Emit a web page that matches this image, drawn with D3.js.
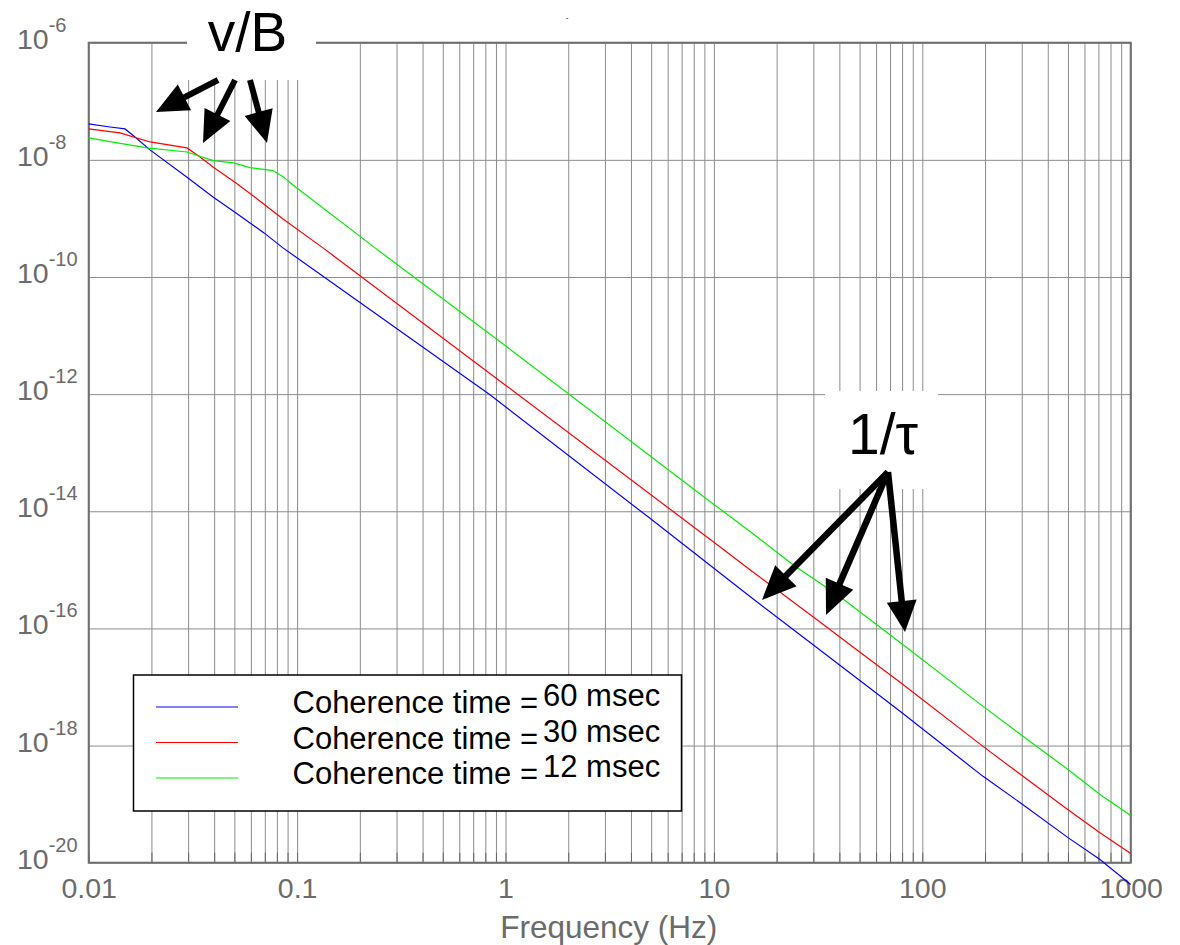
<!DOCTYPE html>
<html><head><meta charset="utf-8">
<script src="https://cdn.jsdelivr.net/npm/d3@7"></script>
<style>
body{margin:0;background:#fff}
svg{display:block}
text{font-family:"Liberation Sans",Arial,Helvetica,sans-serif}
</style>
</head><body>
<svg id="c" width="1180" height="945"></svg>
<script>
// ---------- data ----------
const blueFreq = [0.01, 0.01266, 0.01494, 0.01668, 0.01969, 0.02996, 0.0395, 0.05091, 0.06939, 0.08557, 0.8425, 4.882, 14.9, 31.25, 78.2, 195.6, 304.2, 500.3, 712.2, 1000];
const blueVal  = [4.1e-8, 3.64e-8, 3.37e-8, 2.46e-8, 1.48e-8, 4.91e-9, 2.33e-9, 1.24e-9, 5.66e-10, 3.14e-10, 9.73e-13, 7.8e-15, 3.5e-16, 4.69e-17, 3.84e-18, 2.98e-19, 9.8e-20, 2.68e-20, 1.13e-20, 4.23e-21];

const redFreq = [0.01, 0.01413, 0.01969, 0.02963, 0.0342, 0.0395, 0.05091, 0.06939, 0.08557, 0.1331, 1, 10, 14.9, 31.25, 48.6, 78.2, 195.6, 304.2, 500.3, 712.2, 1000];
const redVal  = [3.37e-8, 2.88e-8, 2.02e-8, 1.6e-8, 1.12e-8, 7.56e-9, 4.03e-9, 1.75e-9, 9.8e-10, 3.14e-10, 1.42e-12, 2.96e-15, 1.0e-15, 1.4e-16, 4.28e-17, 1.2e-17, 9.69e-19, 2.98e-19, 8.05e-20, 3.26e-20, 1.43e-20];

const greenFreq = [0.01, 0.01266, 0.01905, 0.02963, 0.0395, 0.04952, 0.05943, 0.07662, 0.08557, 0.09557, 0.2365, 1, 10, 14.9, 23.97, 40.3, 84.45, 195.6, 304.2, 500.3, 712.2, 1000];
const greenVal  = [2.37e-8, 2.05e-8, 1.6e-8, 1.36e-8, 9.69e-9, 8.85e-9, 7.36e-9, 6.55e-9, 5.17e-9, 3.73e-9, 3.14e-10, 6.7e-12, 1.31e-14, 4.52e-15, 1.22e-15, 3.47e-16, 4.69e-17, 4.67e-18, 1.44e-18, 3.89e-19, 1.46e-19, 6.37e-20];

const seriesNames = ["60 msec", "30 msec", "12 msec"];
const seriesColors = ["#0000ff", "#ff0000", "#00ee00"];
const legendPrefix = "Coherence time =";

const xTickVals = [0.01, 0.1, 1, 10, 100, 1000];
const xTickLabels = ["0.01", "0.1", "1", "10", "100", "1000"];
const yTickVals = [1e-6, 1e-8, 1e-10, 1e-12, 1e-14, 1e-16, 1e-18, 1e-20];
const yTickExps = ["-6", "-8", "-10", "-12", "-14", "-16", "-18", "-20"];
const xLabel = "Frequency (Hz)";

// ---------- layout ----------
const L = 88.7, R = 1130.7, T = 42.7, B = 862.7;
const x = d3.scaleLog().domain([0.01, 1000]).range([L, R]);
const y = d3.scaleLog().domain([1e-6, 1e-20]).range([T, B]);
const svg = d3.select("#c");
const gridCol = "#8c8c8c", frameCol = "#707070", labCol = "#6b6b6b";

// vertical grid (all 1..9 x 10^n)
const gx = svg.append("g").attr("transform", `translate(0,${B})`)
  .call(d3.axisBottom(x).tickSize(-(B - T)).tickFormat(""));
gx.select(".domain").remove();
gx.selectAll("line").attr("stroke", gridCol).attr("stroke-width", 1);

// horizontal grid
const gy = svg.append("g").attr("transform", `translate(${L},0)`)
  .call(d3.axisLeft(y).tickValues(yTickVals).tickSize(-(R - L)).tickFormat(""));
gy.select(".domain").remove();
gy.selectAll("line").attr("stroke", gridCol).attr("stroke-width", 1);

// inward ticks at bottom (darker)
const gt = svg.append("g").attr("transform", `translate(0,${B})`)
  .call(d3.axisBottom(x).tickSize(-10).tickFormat(""));
gt.select(".domain").remove();
gt.selectAll("line").attr("stroke", "#666").attr("stroke-width", 1);

// frame
svg.append("rect").attr("x", L).attr("y", T).attr("width", R - L).attr("height", B - T)
  .attr("fill", "none").attr("stroke", frameCol).attr("stroke-width", 2);

// x tick labels
const gxl = svg.append("g").attr("transform", `translate(0,${B})`)
  .call(d3.axisBottom(x).tickValues(xTickVals).tickSize(0).tickFormat((d, i) => xTickLabels[i]));
gxl.select(".domain").remove();
gxl.selectAll("text").attr("y", 35).attr("dy", 0)
  .attr("font-size", 28.5).attr("fill", labCol).attr("font-family", '"Liberation Sans",Arial,sans-serif');

// y tick labels
yTickVals.forEach((v, i) => {
  const t = svg.append("text").attr("x", 17).attr("y", y(v) + 6).attr("fill", labCol).attr("font-size", 28.5);
  t.append("tspan").text("10");
  t.append("tspan").attr("font-size", 20).attr("dy", -17).text(yTickExps[i]);
});

// x label
svg.append("text").attr("x", (L + R) / 2 - 1).attr("y", 938).attr("text-anchor", "middle")
  .attr("font-size", 31.5).attr("fill", labCol).text(xLabel);

// tiny title mark
svg.append("text").attr("x", 567).attr("y", 20).attr("text-anchor", "middle")
  .attr("font-size", 8).attr("fill", "#000").text("-");

// ---------- curves ----------
const line = d3.line().x(d => x(d[0])).y(d => y(d[1]));
const series = [
  [blueFreq, blueVal],
  [redFreq, redVal],
  [greenFreq, greenVal]
];
series.forEach((s, i) => {
  const pts = s[0].map((f, j) => [f, s[1][j]]);
  svg.append("path").datum(pts).attr("d", line).attr("fill", "none")
    .attr("stroke", seriesColors[i]).attr("stroke-width", 1.2);
});

// ---------- legend ----------
const lg = svg.append("g");
lg.append("rect").attr("x", 133.5).attr("y", 675).attr("width", 548).attr("height", 136)
  .attr("fill", "#fff").attr("stroke", "#000").attr("stroke-width", 1.5);
const rowBase = [713, 748.5, 784];
seriesNames.forEach((n, i) => {
  lg.append("line").attr("x1", 156).attr("x2", 238).attr("y1", rowBase[i] - 6).attr("y2", rowBase[i] - 6)
    .attr("stroke", seriesColors[i]).attr("stroke-width", 1.2);
  lg.append("text").attr("x", 292.5).attr("y", rowBase[i]).attr("font-size", 31)
    .attr("fill", "#000").text(legendPrefix);
  lg.append("text").attr("x", 543).attr("y", rowBase[i] - 7).attr("font-size", 31).attr("fill", "#000").text(n);
});

// ---------- annotations ----------
svg.append("rect").attr("x", 187).attr("y", 0).attr("width", 129).attr("height", 80).attr("fill", "#fff");
svg.append("rect").attr("x", 825).attr("y", 391).attr("width", 113).attr("height", 98).attr("fill", "#fff");
svg.append("text").attr("x", 247.5).attr("y", 51).attr("text-anchor", "middle").attr("font-size", 55).attr("fill", "#000").text("v/B");
svg.append("text").attr("x", 883).attr("y", 454).attr("text-anchor", "middle").attr("font-size", 57).attr("fill", "#000").text("1/τ");

function arrow(x0, y0, x1, y1, hl, hw, sw) {
  const dx = x1 - x0, dy = y1 - y0, len = Math.hypot(dx, dy);
  const ux = dx / len, uy = dy / len;
  const bx = x1 - ux * hl, by = y1 - uy * hl;
  const px = -uy * hw, py = ux * hw;
  svg.append("line").attr("x1", x0).attr("y1", y0).attr("x2", bx + ux * 2).attr("y2", by + uy * 2)
    .attr("stroke", "#000").attr("stroke-width", sw);
  svg.append("polygon").attr("points", `${x1},${y1} ${bx + px},${by + py} ${bx - px},${by - py}`).attr("fill", "#000");
}
arrow(218, 80, 156, 112, 32, 14.5, 6);
arrow(235, 80, 203, 143, 32, 14.5, 6);
arrow(250, 80, 267, 143, 32, 14.5, 6);
arrow(888, 472, 762, 600, 34, 15, 6.5);
arrow(888, 472, 826, 615, 34, 15, 6.5);
arrow(888, 472, 905, 632, 31, 15, 6.5);
</script>
</body></html>
